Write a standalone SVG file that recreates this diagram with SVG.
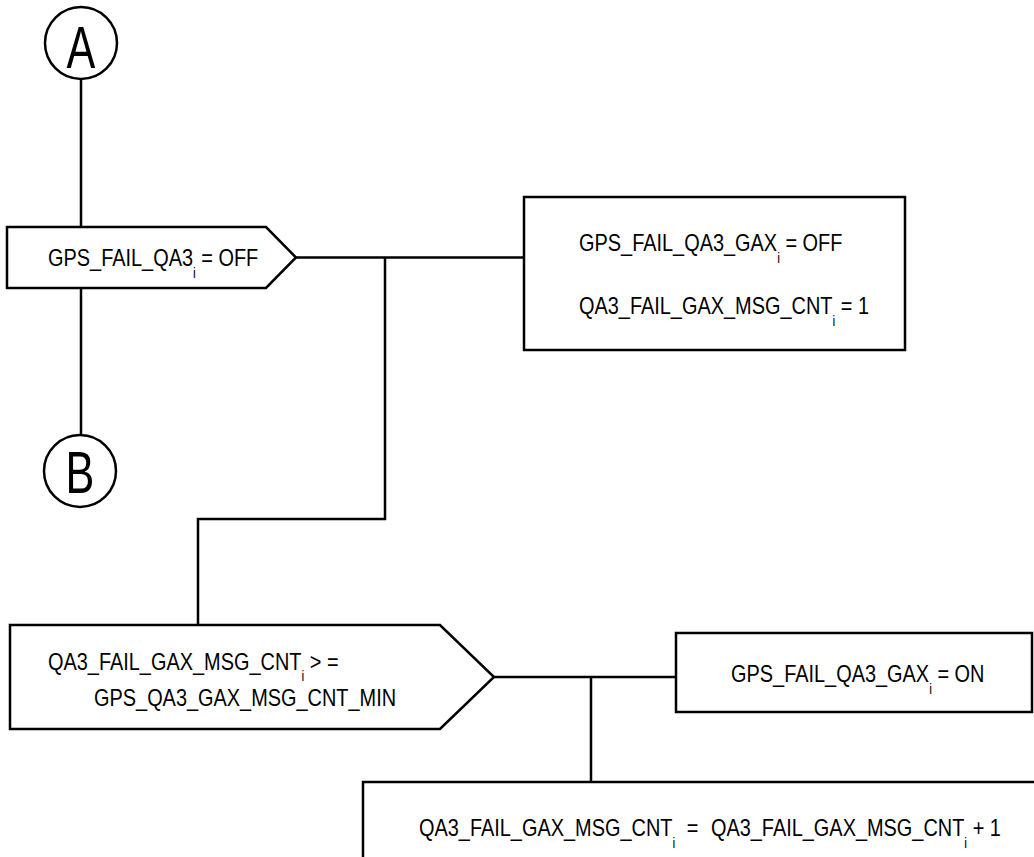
<svg xmlns="http://www.w3.org/2000/svg" width="1034" height="857" viewBox="0 0 1034 857">
<style>
.shape{fill:#fff;stroke:#000;stroke-width:2.5}
.conn{fill:none;stroke:#000;stroke-width:2.5}
.t{font-family:"Liberation Sans",Arial,sans-serif;font-size:24px;fill:#000}
.sub{font-size:15px}
.big{font-family:"Liberation Sans",Arial,sans-serif;font-size:60px;fill:#000;text-anchor:middle}
</style>
<rect width="1034" height="857" fill="#fff"/>
<g id="connectors">
<path class="conn" d="M81,78 V227"/>
<path class="conn" d="M81,288 V435"/>
<path class="conn" d="M296,257.5 H524"/>
<path class="conn" d="M385,257.5 V519 H198 V625"/>
<path class="conn" d="M494,677 H676"/>
<path class="conn" d="M591,677 V782"/>
</g>
<g id="nodeA">
<circle class="shape" cx="81" cy="43" r="36"/>
<text class="big" transform="translate(81,68) scale(0.72,1)">A</text>
</g>
<g id="nodeB">
<circle class="shape" cx="80" cy="471" r="36"/>
<text class="big" transform="translate(80,493) scale(0.72,1)">B</text>
</g>
<g id="decision1">
<polygon class="shape" points="7,227 266,227 296,257.5 266,288 7,288"/>
<text class="t" transform="translate(48,266) scale(0.83,1)">GPS_FAIL_QA3<tspan class="sub" dy="12">i</tspan><tspan dy="-12"> = OFF</tspan></text>
</g>
<g id="box1">
<rect class="shape" x="524" y="197" width="381" height="153"/>
<text class="t" transform="translate(579,251) scale(0.83,1)">GPS_FAIL_QA3_GAX<tspan class="sub" dy="12">i</tspan><tspan dy="-12"> = OFF</tspan></text>
<text class="t" transform="translate(579,314) scale(0.83,1)">QA3_FAIL_GAX_MSG_CNT<tspan class="sub" dy="12">i</tspan><tspan dy="-12"> = 1</tspan></text>
</g>
<g id="decision2">
<polygon class="shape" points="10,625 440,625 494,677 440,729 10,729"/>
<text class="t" transform="translate(48,670) scale(0.83,1)">QA3_FAIL_GAX_MSG_CNT<tspan class="sub" dy="11">i</tspan><tspan dy="-11"> &gt; =</tspan></text>
<text class="t" transform="translate(94,706) scale(0.83,1)">GPS_QA3_GAX_MSG_CNT_MIN</text>
</g>
<g id="box2">
<rect class="shape" x="676" y="633" width="356" height="79"/>
<text class="t" transform="translate(731,682) scale(0.83,1)">GPS_FAIL_QA3_GAX<tspan class="sub" dy="12">i</tspan><tspan dy="-12"> = ON</tspan></text>
</g>
<g id="box3">
<rect class="shape" x="363" y="782" width="700" height="100"/>
<text class="t" transform="translate(419,836) scale(0.83,1)">QA3_FAIL_GAX_MSG_CNT<tspan class="sub" dy="12">i</tspan><tspan dy="-12" dx="14">=</tspan><tspan dx="15">QA3_FAIL_GAX_MSG_CNT</tspan><tspan class="sub" dy="12">i</tspan><tspan dy="-12"> + 1</tspan></text>
</g>
</svg>
